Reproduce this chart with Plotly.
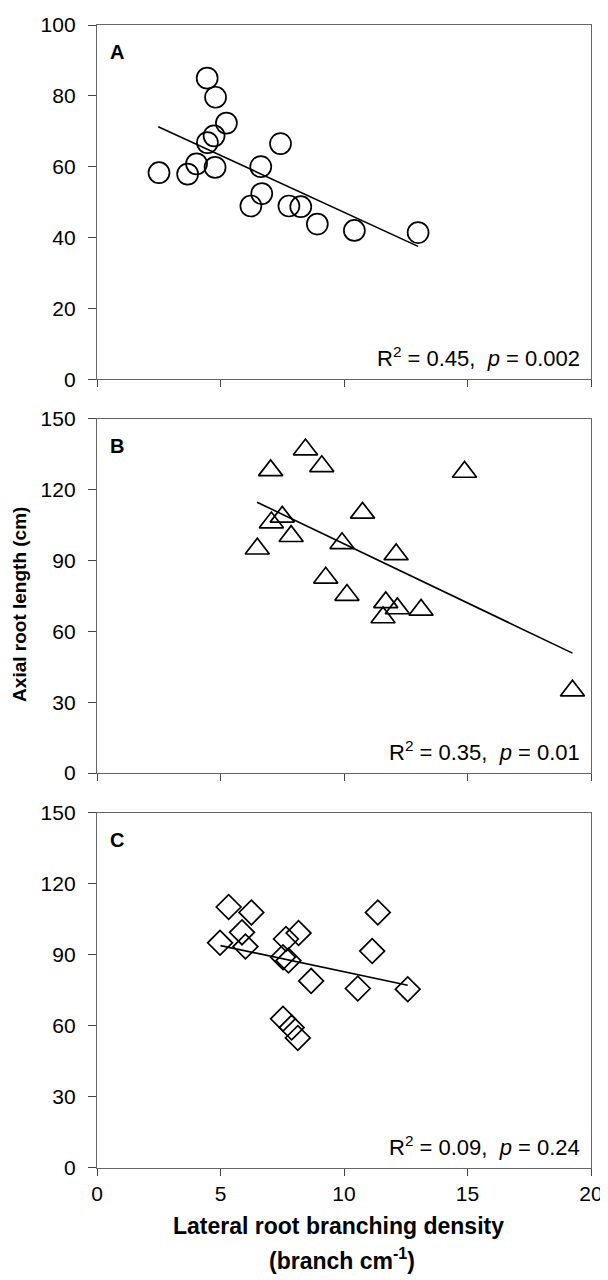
import plotly.graph_objects as go

# Panel A (circles)
a_x = [4.46, 4.80, 5.24, 4.74, 4.47, 7.43, 2.51, 3.67, 4.03, 4.78, 6.63, 6.67, 6.23, 7.77, 8.25, 8.92, 10.42, 13.0]
a_y = [85.0, 79.6, 72.3, 68.7, 66.8, 66.5, 58.3, 57.9, 60.8, 59.8, 60.0, 52.4, 48.9, 48.9, 48.7, 43.8, 42.0, 41.4]
a_fit_x = [2.48, 13.0]
a_fit_y = [71.3, 37.5]

# Panel B (triangles)
b_x = [8.44, 9.10, 7.03, 14.88, 10.75, 7.50, 7.06, 7.86, 9.92, 6.49, 12.11, 9.26, 10.12, 11.69, 12.16, 13.12, 11.58, 19.25]
b_y = [137.0, 129.9, 128.2, 127.5, 110.2, 108.5, 106.1, 100.3, 97.3, 95.0, 92.6, 82.7, 75.4, 72.3, 69.7, 69.1, 65.9, 34.9]
b_fit_x = [6.48, 19.25]
b_fit_y = [114.7, 50.8]

# Panel C (diamonds)
c_x = [5.33, 6.25, 11.37, 5.87, 8.16, 7.65, 4.98, 6.01, 11.14, 7.53, 7.75, 8.67, 10.56, 12.58, 7.53, 7.88, 8.13]
c_y = [110.2, 107.9, 107.9, 99.5, 99.2, 96.7, 95.1, 93.5, 91.6, 89.0, 87.6, 79.0, 75.8, 75.5, 63.0, 59.3, 54.9]
c_fit_x = [5.0, 12.58]
c_fit_y = [93.9, 77.2]

panel_labels = ["A", "B", "C"]
stats = ["R<sup>2</sup> = 0.45,  <i>p</i> = 0.002",
         "R<sup>2</sup> = 0.35,  <i>p</i> = 0.01",
         "R<sup>2</sup> = 0.09,  <i>p</i> = 0.24"]
x_ticks = [0, 5, 10, 15, 20]
ya_ticks = [0, 20, 40, 60, 80, 100]
yb_ticks = [0, 30, 60, 90, 120, 150]

FONT = "Arial, Liberation Sans, sans-serif"
fig = go.Figure()

panels = [
    (a_x, a_y, a_fit_x, a_fit_y, "circle-open", 21, "x", "y"),
    (b_x, b_y, b_fit_x, b_fit_y, "triangle-up-open", 21, "x2", "y2"),
    (c_x, c_y, c_fit_x, c_fit_y, "diamond-open", 19, "x3", "y3"),
]
for px, py, fx, fy, sym, sz, xa, ya in panels:
    fig.add_trace(go.Scatter(x=fx, y=fy, mode="lines", xaxis=xa, yaxis=ya,
                             line=dict(color="black", width=1.6), showlegend=False))
    fig.add_trace(go.Scatter(x=px, y=py, mode="markers", xaxis=xa, yaxis=ya,
                             marker=dict(symbol=sym, size=sz, color="black",
                                         line=dict(color="black", width=1.7)),
                             showlegend=False))

domains = [[0.6901, 1.0], [0.3455, 0.6554], [0.0, 0.3108]]
axis_common = dict(showline=True, linecolor="#666666", linewidth=1.3, mirror=True,
                   ticks="outside", tickcolor="#444444", tickwidth=1.3,
                   showgrid=False, zeroline=False,
                   tickfont=dict(family=FONT, size=21, color="black"))

# page body has an 8px default margin: the figure is sized/offset to compensate
layout = dict(
    width=600, height=1272,
    margin=dict(l=89, r=16, t=5, b=112),
    paper_bgcolor="white", plot_bgcolor="white",
    font=dict(family=FONT, color="black"),
    showlegend=False,
)
for i in range(3):
    sfx = "" if i == 0 else str(i + 1)
    anchor_y = "y" + sfx
    anchor_x = "x" + sfx
    layout["xaxis" + sfx] = dict(axis_common, domain=[0, 1], anchor=anchor_y,
                                 range=[0, 20], tickvals=x_ticks, ticklen=7,
                                 showticklabels=(i == 2))
    yt = ya_ticks if i == 0 else yb_ticks
    layout["yaxis" + sfx] = dict(axis_common, domain=domains[i], anchor=anchor_x,
                                 range=[0, yt[-1]], tickvals=yt, ticklen=8,
                                 ticklabelstandoff=8)
fig.update_layout(**layout)

annotations = []
for i in range(3):
    sfx = "" if i == 0 else str(i + 1)
    annotations.append(dict(text="<b>%s</b>" % panel_labels[i], xref="x" + sfx + " domain",
                            yref="y" + sfx + " domain", x=0.0, y=1.0, xshift=11, yshift=-27,
                            xanchor="left", yanchor="middle", showarrow=False,
                            font=dict(family=FONT, size=20, color="black")))
    annotations.append(dict(text=stats[i], xref="x" + sfx + " domain",
                            yref="y" + sfx + " domain", x=1.0, y=0.0, xshift=-9, yshift=22,
                            xanchor="right", yanchor="middle", showarrow=False,
                            font=dict(family=FONT, size=22, color="black")))

annotations.append(dict(text="<b>Lateral root branching density</b>", xref="paper", yref="paper",
                        x=(339 - 97) / 495, y=-(1227 - 1168) / 1155, xanchor="center",
                        yanchor="middle", showarrow=False,
                        font=dict(family=FONT, size=23, color="black")))
annotations.append(dict(text="<b>(branch cm<sup>-1</sup>)</b>", xref="paper", yref="paper",
                        x=(342 - 97) / 495, y=-(1260 - 1168) / 1155, xanchor="center",
                        yanchor="middle", showarrow=False,
                        font=dict(family=FONT, size=23, color="black")))
annotations.append(dict(text="<b>Axial root length (cm)</b>", xref="paper", yref="paper",
                        x=0.0, xshift=-77, y=1 - (599 - 13) / 1155, xanchor="center",
                        yanchor="middle", textangle=-90, showarrow=False,
                        font=dict(family=FONT, size=19, color="black")))
fig.update_layout(annotations=annotations)

fig.write_html("out.html")
